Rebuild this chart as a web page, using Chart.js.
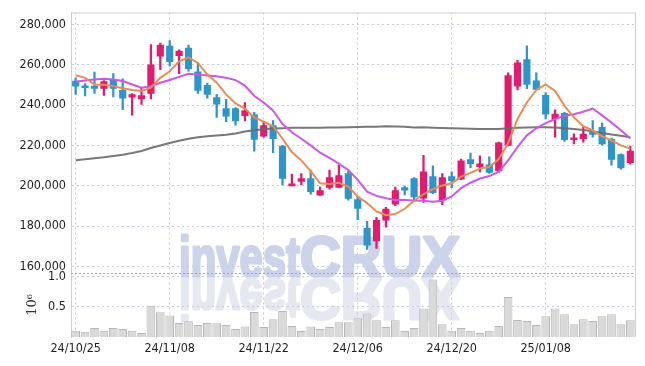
<!DOCTYPE html>
<html>
<head>
<meta charset="utf-8">
<script src="https://cdn.jsdelivr.net/npm/chart.js@4"></script>
<style>
  html, body { margin: 0; padding: 0; background: #fff; }
</style>
</head>
<body>
<canvas id="chart" width="645" height="366"></canvas>
<script>
// ---------- DATI ----------
const dates = [
  '24/10/25','24/10/28','24/10/29','24/10/30','24/10/31','24/11/01','24/11/04','24/11/05','24/11/06','24/11/07',
  '24/11/08','24/11/11','24/11/12','24/11/13','24/11/14','24/11/15','24/11/18','24/11/19','24/11/20','24/11/21',
  '24/11/22','24/11/25','24/11/26','24/11/27','24/11/28','24/11/29','24/12/02','24/12/03','24/12/04','24/12/05',
  '24/12/06','24/12/09','24/12/10','24/12/11','24/12/12','24/12/13','24/12/16','24/12/17','24/12/18','24/12/19',
  '24/12/20','24/12/23','24/12/24','24/12/26','24/12/27','24/12/30','25/01/02','25/01/03','25/01/06','25/01/07',
  '25/01/08','25/01/09','25/01/10','25/01/13','25/01/14','25/01/15','25/01/16','25/01/17','25/01/20','25/01/21'
];
const opens = [
  251900,249100,249400,248300,252400,247300,243900,243100,245800,264200,
  269200,264500,268200,256500,249800,243700,238300,238300,234700,235200,
  224600,229800,219700,199900,202200,203600,195300,199200,199200,206100,
  193200,179000,172600,183000,190900,199100,203600,193800,204500,192900,
  204500,203300,213000,209500,210400,207400,220000,249400,262500,252000,
  244800,233100,235900,222800,223300,226000,229000,223000,215400,211500
];
const closes = [
  249400,248600,248300,251600,248300,243400,245200,244700,259900,269700,
  261500,266800,258100,247300,245300,240400,234500,232100,237200,223000,
  229800,223300,203600,201000,203500,197100,197600,204000,205100,193700,
  188800,170600,182900,188400,197600,197800,194500,206900,196600,204000,
  202500,212300,210900,210900,206600,221300,254600,260900,250200,247800,
  235500,235500,222800,223800,225600,225500,220800,213000,208900,217200
];
const highs = [
  253500,250600,256300,252200,255600,253000,245700,248300,270000,270700,
  272000,267400,269700,260900,250900,245300,242900,238700,241300,236400,
  232000,232300,220000,205800,206100,207600,199400,207800,210200,207300,
  194700,182400,184400,189300,199400,199900,204100,215100,209900,206100,
  206900,213200,216200,214800,214300,221600,256000,262200,269400,256000,
  246200,237700,236400,225700,229000,232300,231100,223600,215800,219700
];
const lows = [
  245300,244500,245800,244800,244100,237700,235000,240300,243100,257600,
  259300,255600,256800,245800,243400,233900,231800,230100,232100,217100,
  224100,216400,200400,199900,200400,195800,195200,198300,199200,192800,
  183200,168500,168900,179500,190100,195500,192200,191700,196100,190600,
  199100,203000,209000,206900,206100,206900,219700,247500,248100,247500,
  233100,224100,222000,220800,221600,224100,220300,210200,208200,210700
];
const ma5 = [
  254800,253500,250200,250100,249400,248300,247500,247000,248600,253500,
  256800,261700,263700,260900,255100,251100,245300,240800,238300,233900,
  231800,229500,223300,216700,212600,207300,201200,200900,201500,199600,
  194700,191400,187300,185400,186000,188600,192600,195800,198300,200100,
  201200,204500,206400,208500,209400,213200,221000,233100,241300,247500,
  250200,247000,239600,233900,229500,227400,224500,222500,220000,218400
];
const ma20 = [
  251600,252200,252700,253000,252700,251900,250200,248600,249400,251100,
  252400,254000,255500,255100,254700,254300,253500,252400,249700,244500,
  241300,237200,230600,226500,223300,220000,216400,213800,211000,207800,
  202900,197100,195000,193800,193000,192900,192700,192600,192100,192600,
  194700,198800,201500,203600,204800,206900,212600,219200,225000,228500,
  231100,233100,234700,235500,236700,238300,234900,231300,227500,223400
];
const ma120 = [
  212700,213200,213600,214100,214800,215400,216200,217200,218700,220000,
  221200,222300,223300,224100,224600,224900,225300,225900,226900,227500,
  228000,228400,228500,228700,228700,228800,228800,228900,228900,229000,
  229100,229200,229300,229500,229400,229200,228900,229000,228800,228600,
  228500,228400,228300,228200,228200,228200,228500,228700,228900,229000,
  229000,228900,228500,228100,227700,227000,226200,225400,224800,224100
];
// volumi in milioni (asse 10^6)
const volumes = [
  0.105,0.089,0.148,0.105,0.148,0.132,0.105,0.068,0.519,0.411,
  0.358,0.234,0.261,0.197,0.232,0.229,0.197,0.132,0.174,0.416,
  0.164,0.293,0.432,0.181,0.100,0.174,0.132,0.164,0.245,0.245,
  0.310,0.390,0.277,0.164,0.277,0.100,0.148,0.471,0.955,0.213,
  0.105,0.148,0.105,0.068,0.105,0.181,0.664,0.282,0.266,0.197,
  0.342,0.471,0.379,0.213,0.293,0.266,0.342,0.379,0.213,0.277
];
const priceTicks = [160000, 180000, 200000, 220000, 240000, 260000, 280000];
const volTicks = [0.5, 1.0];
const dateTicks = ['24/10/25','24/11/08','24/11/22','24/12/06','24/12/20','25/01/08'];

// ---------- STILE ----------
const RED = '#e5196d';
const BLUE = '#2e95c9';
const GRID = '#c6cadd';
const tickFont = { family: '"DejaVu Sans Condensed", Roboto, sans-serif', size: 12.5 };
const candleColor = ctx => closes[ctx.dataIndex] >= opens[ctx.dataIndex] ? RED : BLUE;

// watermark dietro la griglia
const watermark = {
  id: 'watermark',
  beforeDraw(chart) {
    const { ctx, chartArea } = chart;
    const x0 = chartArea.left + 108;
    const base = chart.scales.y.bottom + 4;
    const parts = [['invest', 121], ['CRUX', 160]];
    const draw = (color) => {
      let x = x0;
      parts.forEach(([t, w]) => {
        ctx.save();
        ctx.font = 'bold 58px "Liberation Sans"';
        const m = ctx.measureText(t).width;
        ctx.translate(x, 0);
        ctx.scale(w / m, 1);
        ctx.fillStyle = color;
        ctx.strokeStyle = color;
        ctx.lineWidth = 3;
        ctx.lineJoin = 'round';
        ctx.fillText(t, 0, 0);
        ctx.strokeText(t, 0, 0);
        ctx.restore();
        x += w;
      });
    };
    ctx.save();
    ctx.translate(0, base);
    draw('#ccd3ea');
    ctx.scale(1, -1);
    ctx.translate(0, -2);
    draw('#e6e8f1');
    ctx.restore();
  }
};

// cornice + separatore tra prezzo e volume
const frame = {
  id: 'frame',
  afterDraw(chart) {
    const { ctx, chartArea } = chart;
    const { left, right, top, bottom } = chartArea;
    ctx.save();
    ctx.lineWidth = 1;
    ctx.strokeStyle = '#cfcfcf';
    ctx.beginPath();
    ctx.moveTo(left, top + 0.5);
    ctx.lineTo(right + 0.5, top + 0.5);
    ctx.lineTo(right + 0.5, bottom);
    ctx.stroke();
    const sep = Math.round(chart.scales.vol.top) + 0.5;
    ctx.strokeStyle = '#a4a4a4';
    ctx.setLineDash([2, 2]);
    ctx.beginPath();
    ctx.moveTo(left, sep);
    ctx.lineTo(right, sep);
    ctx.stroke();
    ctx.restore();
  }
};

new Chart(document.getElementById('chart'), {
  type: 'bar',
  data: {
    labels: dates,
    datasets: [
      { type: 'line', data: ma5, yAxisID: 'y', borderColor: '#ee8a50', borderWidth: 2, pointRadius: 0, tension: 0, order: 0 },
      { type: 'line', data: ma20, yAxisID: 'y', borderColor: '#cc57ec', borderWidth: 2, pointRadius: 0, tension: 0, order: 0 },
      { type: 'line', data: ma120, yAxisID: 'y', borderColor: 'rgba(105,105,105,0.9)', borderWidth: 2, pointRadius: 0, tension: 0, order: 0 },
      { data: opens.map((o, i) => [o, closes[i]]), yAxisID: 'y', backgroundColor: candleColor, barThickness: 6.5, minBarLength: 2, grouped: false, order: 2 },
      { data: lows.map((l, i) => [l, highs[i]]), yAxisID: 'y', backgroundColor: candleColor, barThickness: 1.6, grouped: false, order: 3 },
      { data: volumes, yAxisID: 'vol', backgroundColor: '#d9d9d9', borderColor: '#b6b6b6', borderWidth: 1,
        barPercentage: 0.92, categoryPercentage: 1, grouped: false, order: 4 }
    ]
  },
  options: {
    responsive: false,
    animation: false,
    layout: { padding: { top: 9, right: 10, bottom: 9, left: 0 } },
    plugins: { legend: { display: false }, tooltip: { enabled: false } },
    scales: {
      x: {
        offset: true,
        grid: { offset: false, color: GRID, drawTicks: false },
        border: { display: false, dash: [2, 3] },
        afterBuildTicks: s => { s.ticks = s.ticks.filter(t => dateTicks.includes(dates[t.value])); },
        afterFit: s => { s.height = 20; },
        ticks: {
          autoSkip: false, maxRotation: 0, padding: 4, color: '#1e1e1e', font: tickFont,
          callback(v) { return this.getLabelForValue(v); }
        }
      },
      y: {
        position: 'left', stack: 'panel', stackWeight: 263, weight: 1,
        min: 156900, max: 285900,
        afterBuildTicks: s => { s.ticks = priceTicks.map(v => ({ value: v })); },
        afterFit: s => { s.width = 71; },
        grid: { color: GRID, drawTicks: false },
        border: { color: '#cfcfcf', dash: [2, 3] },
        ticks: { padding: 5, color: '#1e1e1e', font: tickFont, callback: v => v.toLocaleString('en-US') }
      },
      vol: {
        position: 'left', stack: 'panel', stackWeight: 65, weight: 0,
        min: 0, max: 1.066,
        afterBuildTicks: s => { s.ticks = volTicks.map(v => ({ value: v })); },
        afterFit: s => { s.width = 71; },
        grid: { color: GRID, drawTicks: false },
        border: { color: '#cfcfcf', dash: [2, 3] },
        ticks: { padding: 5, color: '#1e1e1e', font: tickFont, callback: v => v.toFixed(1) },
        title: { display: true, text: '10⁶', color: '#333', font: { family: 'DejaVu Serif', size: 13 }, padding: { top: 25, bottom: 0 } }
      }
    }
  },
  plugins: [watermark, frame]
});
</script>
</body>
</html>
